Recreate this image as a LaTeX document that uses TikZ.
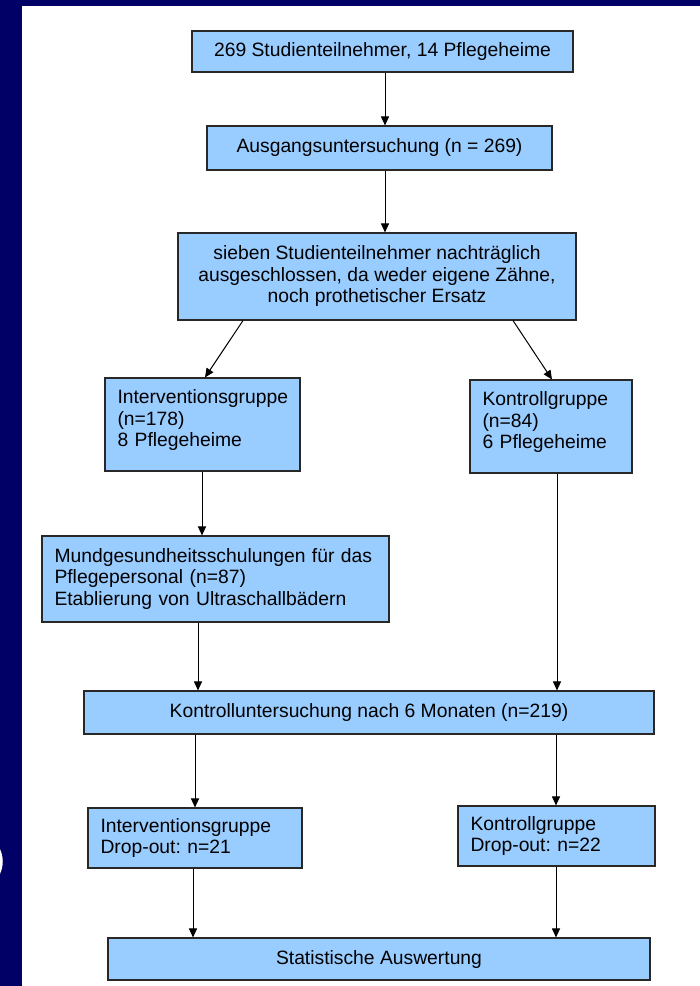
\documentclass[tikz,border=0pt]{standalone}
\usepackage{fontspec}
\setmainfont{Liberation Sans}
\usetikzlibrary{arrows.meta}
\definecolor{navy}{RGB}{0,0,102}
\definecolor{boxblue}{RGB}{153,204,255}
\definecolor{edgegray}{RGB}{40,40,40}
\frenchspacing
\begin{document}
\begin{tikzpicture}[x=1pt,y=-1pt,
  box/.style={draw=edgegray, line width=1.1pt, fill=boxblue, inner xsep=12.5pt, inner ysep=0pt,
              font=\fontsize{19.3}{21.5}\selectfont, text=black},
  cbox/.style={box, align=center},
  lbox/.style={box, align=left},
  arr/.style={-{Triangle[length=9pt,width=8pt]}, line width=1pt, draw=black}]
\useasboundingbox (0,0) rectangle (700,986);
\fill[navy] (0,0) rectangle (700,986);
\fill[white] (22,6) rectangle (700,986);
\draw[white, line width=2.5pt] (-3,846) .. controls (3,856) and (3,867) .. (-3,877);

\node[cbox, minimum width=381pt, minimum height=41pt] (n1) at (382.5,51.5) {269 Studienteilnehmer, 14 Pflegeheime};
\node[cbox, minimum width=345pt, minimum height=44pt] (n2) at (379.5,148) {Ausgangsuntersuchung (n = 269)};
\node[cbox, minimum width=398pt, minimum height=87pt] (n3) at (377,276.5) {sieben Studienteilnehmer nachträglich\\ausgeschlossen, da weder eigene Zähne,\\noch prothetischer Ersatz};
\node[lbox, text width=170pt, minimum height=93pt] (n4l) at (202.5,424.5) {Interventionsgruppe\\(n=178)\\8 Pflegeheime\\[-9pt]\mbox{}};
\node[lbox, text width=137pt, minimum height=93pt] (n4r) at (551,426.5) {Kontrollgruppe\\(n=84)\\6 Pflegeheime\\[-9pt]\mbox{}};
\node[lbox, text width=322pt, minimum height=86pt] (n5) at (215.5,579) {Mundgesundheitsschulungen für das\\Pflegepersonal (n=87)\\Etablierung von Ultraschallbädern};
\node[cbox, minimum width=570pt, minimum height=43pt] (n6) at (369,712.5) {Kontrolluntersuchung nach 6 Monaten (n=219)};
\node[lbox, text width=189pt, minimum height=60pt] (n7l) at (195,838) {Interventionsgruppe\\Drop-out: n=21};
\node[lbox, text width=172pt, minimum height=60pt] (n7r) at (556.5,836) {Kontrollgruppe\\Drop-out: n=22};
\node[cbox, minimum width=542pt, minimum height=42pt] (n8) at (379,959) {Statistische Auswertung};

\draw[arr] (n1.south -| 385,0) -- (n2.north -| 385,0);
\draw[arr] (n2.south -| 385,0) -- (n3.north -| 385,0);
\draw[arr] (n3.south -| 243,0) -- (n4l.north -| 205,0);
\draw[arr] (n3.south -| 513,0) -- (n4r.north -| 552,0);
\draw[arr] (n4l.south -| 202,0) -- (n5.north -| 202,0);
\draw[arr] (n4r.south -| 557,0) -- (n6.north -| 557,0);
\draw[arr] (n5.south -| 198,0) -- (n6.north -| 198,0);
\draw[arr] (n6.south -| 195,0) -- (n7l.north -| 195,0);
\draw[arr] (n6.south -| 556,0) -- (n7r.north -| 556,0);
\draw[arr] (n7l.south -| 193,0) -- (n8.north -| 193,0);
\draw[arr] (n7r.south -| 556,0) -- (n8.north -| 556,0);
\end{tikzpicture}
\end{document}
